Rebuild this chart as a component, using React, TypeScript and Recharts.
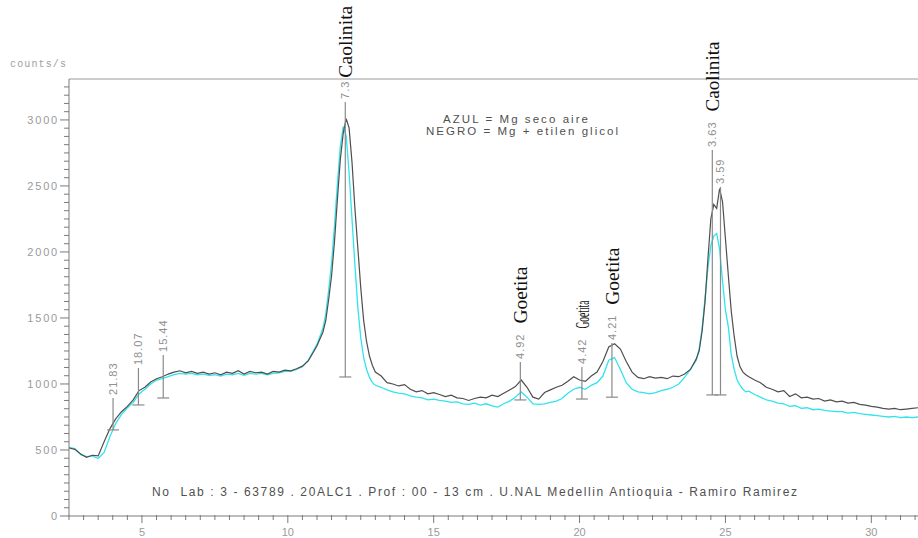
import React from 'react';
import { LineChart, Line, XAxis, YAxis, ReferenceLine } from 'recharts';

// ---------------- data ----------------
const twoTheta = [
  2.5, 2.7, 2.9, 3.1, 3.3, 3.5, 3.7, 3.9, 4.1, 4.3, 4.5, 4.7, 4.9, 5.1, 5.3, 5.5, 5.7, 5.9, 6.1, 6.3, 6.5, 6.7, 6.9,
  7.1, 7.3, 7.5, 7.7, 7.9, 8.1, 8.3, 8.5, 8.7, 8.9, 9.1, 9.3, 9.5, 9.7, 9.9, 10.1, 10.3, 10.5, 10.7, 10.9,
  11.0, 11.1, 11.2, 11.3, 11.4, 11.5, 11.6, 11.7, 11.8, 11.9, 12.0, 12.1, 12.2, 12.3, 12.4, 12.5, 12.6, 12.7, 12.8, 12.9,
  13.0, 13.2, 13.4, 13.6, 13.8, 14.0, 14.2, 14.4, 14.6, 14.8, 15.0, 15.2, 15.4, 15.6, 15.8, 16.0, 16.2, 16.4, 16.6, 16.8,
  17.0, 17.2, 17.4, 17.6, 17.8, 18.0, 18.2, 18.4, 18.6, 18.8, 19.0, 19.2, 19.4, 19.6, 19.8, 20.0, 20.2, 20.4, 20.6, 20.8,
  21.0, 21.2, 21.4, 21.6, 21.8, 22.0, 22.2, 22.4, 22.6, 22.8, 23.0, 23.2, 23.4, 23.6, 23.8,
  24.0, 24.1, 24.2, 24.3, 24.4, 24.5, 24.6, 24.7, 24.8, 24.9, 25.0, 25.1, 25.2, 25.3, 25.4, 25.5, 25.6, 25.7,
  25.8, 26.0, 26.2, 26.4, 26.6, 26.8, 27.0, 27.2, 27.4, 27.6, 27.8, 28.0, 28.2, 28.4, 28.6, 28.8, 29.0, 29.2, 29.4, 29.6,
  29.8, 30.0, 30.2, 30.4, 30.6, 30.8, 31.0, 31.2, 31.4, 31.6,
];

// NEGRO = Mg + etilen glicol
const negro = [
  515, 505, 470, 445, 460, 455, 560, 660, 735, 790, 830, 880, 950, 975, 1015, 1040, 1055, 1075, 1090, 1100, 1085, 1095, 1080,
  1090, 1075, 1085, 1070, 1090, 1080, 1100, 1075, 1095, 1085, 1090, 1075, 1095, 1090, 1105, 1100, 1115, 1135, 1175, 1250,
  1290, 1340, 1390, 1480, 1640, 1820, 2080, 2400, 2700, 2900, 3010, 2940, 2680, 2330, 2030, 1730, 1480, 1320, 1210, 1140,
  1090, 1060, 1010, 1000, 985, 995, 960, 940, 950, 925, 935, 920, 905, 915, 895, 890, 875, 890, 900, 895,
  915, 905, 930, 955, 980, 1030, 975, 900, 885, 935, 955, 975, 990, 1020, 1055, 1030, 1020, 1060, 1090, 1170,
  1280, 1305, 1265, 1170, 1090, 1050, 1040, 1055, 1045, 1050, 1040, 1060, 1055, 1075, 1110,
  1190, 1250, 1400, 1620, 1950, 2250, 2360, 2330, 2480, 2380, 2100, 1820, 1550, 1360, 1210, 1130, 1090, 1070,
  1055, 1030, 1010, 975, 960, 940, 950, 905, 925, 895, 900, 885, 890, 870, 880, 865, 870, 855, 860, 845,
  840, 830, 825, 815, 810, 815, 805, 810, 815, 820,
];

// AZUL = Mg seco aire
const azul = [
  520, 510, 465, 450, 455, 435, 480, 600, 700, 770, 820, 860, 925, 960, 1000, 1030, 1040, 1055, 1070, 1080, 1075, 1080, 1070,
  1075, 1065, 1070, 1060, 1075, 1070, 1080, 1065, 1080, 1075, 1080, 1070, 1080, 1085, 1095, 1095, 1110, 1130, 1180, 1260,
  1300, 1360, 1420, 1530, 1710, 1920, 2200, 2520, 2800, 2950, 2880, 2600, 2250, 1900, 1580, 1350, 1200, 1110, 1050, 1010,
  990, 975, 955, 940, 930, 925, 910, 900, 895, 880, 885, 875, 870, 860, 865, 850, 845, 855, 840, 850,
  835, 825, 850, 870, 900, 940, 900, 850, 845, 850, 860, 870, 890, 930, 960, 975, 960, 990, 1010, 1060,
  1180, 1200, 1110, 1010, 960, 940, 935, 925, 935, 950, 960, 975, 1000, 1050, 1110,
  1180, 1270, 1420, 1650, 1880, 2050, 2120, 2140, 2020, 1780, 1560, 1430, 1220, 1110, 1030, 990, 960, 940,
  945, 920, 900, 880, 870, 855, 850, 830, 835, 815, 820, 805, 810, 800, 795, 790, 790, 780, 785, 775,
  770, 765, 760, 755, 750, 755, 745, 750, 745, 750,
];

// peak annotations
const annX = [4.01, 4.88, 5.73, 11.97, 17.97, 20.08, 21.11, 24.55, 24.83];
const annD = ['21.83', '18.07', '15.44', '7.3', '4.92', '4.42', '4.21', '3.63', '3.59'];
const annTop = [894, 1121, 1220, 3136, 1167, 1129, 1310, 2773, 2492];
const annBottom = [652, 841, 894, 1053, 879, 886, 900, 917, 917];
const annMineral = ['', '', '', 'Caolinita', 'Goetita', 'Goetita', 'Goetita', 'Caolinita', ''];

const xLabelValues = [5, 10, 15, 20, 25, 30];
const yLabelValues = [0, 500, 1000, 1500, 2000, 2500, 3000];

const yAxisTitle = 'counts/s';
const legendAzul = 'AZUL = Mg seco aire';
const legendNegro = 'NEGRO = Mg + etilen glicol';
const footer = 'No  Lab : 3 - 63789 . 20ALC1 . Prof : 00 - 13 cm . U.NAL Medellin Antioquia - Ramiro Ramirez';

// ---------------- layout / style ----------------
const W = 918;
const H = 538;
const X_DOMAIN: [number, number] = [2.5, 31.6];
const Y_DOMAIN: [number, number] = [0, 3310];
const SANS = '"Liberation Sans", Arial, sans-serif';
const SERIF = '"Liberation Serif", "Times New Roman", serif';

const xTickValues: number[] = [];
for (let i = 0; i <= 58; i++) xTickValues.push(Math.round((2.5 + i * 0.5) * 10) / 10);
const yTickValues: number[] = [];
for (let i = 0; i <= 52; i++) yTickValues.push(i * 62.5);

const mineralLen: Record<number, number> = { 3: 72, 4: 57, 5: 28, 6: 57, 7: 70 };
const mineralGap: Record<number, number> = { 3: 3 };

const data = twoTheta.map((t, i) => ({ t, negro: negro[i], azul: azul[i] }));

function XTick(props: any) {
  const { x, y, payload } = props;
  const v = payload.value;
  const major = xLabelValues.includes(v);
  return (
    <g>
      <line x1={x} x2={x} y1={y - 1} y2={y + (major ? 7 : 4)} stroke="#7a7a7a" strokeWidth={1} />
      {major && (
        <text x={x} y={y + 20} textAnchor="middle" fontSize={11} fill="#9a9a9a" fontFamily={SANS}>
          {v}
        </text>
      )}
    </g>
  );
}

function YTick(props: any) {
  const { x, y, payload } = props;
  const v = payload.value;
  const major = yLabelValues.includes(v);
  return (
    <g>
      <line x1={x - (major ? 9 : 5)} x2={x} y1={y} y2={y} stroke="#7a7a7a" strokeWidth={1} />
      {major && (
        <text
          x={x - 10}
          y={y}
          textAnchor="end"
          dominantBaseline="central"
          fontSize={11}
          letterSpacing={1.8}
          fill="#9a9a9a"
          fontFamily={SANS}
        >
          {v}
        </text>
      )}
    </g>
  );
}

function AnnLabel(props: any) {
  const { viewBox, idx } = props;
  if (!viewBox) return null;
  const x = viewBox.x;
  const top = viewBox.y;
  const bottom = viewBox.y + viewBox.height;
  const d = annD[idx];
  const mineral = annMineral[idx];
  let dLen = 0;
  for (const ch of d) dLen += (ch === '.' ? 3.1 : 6.1) + 1;
  const dStart = top - 3;
  const gap = mineralGap[idx] ?? 10;
  const mStart = dStart - dLen - gap;
  return (
    <g>
      <line x1={x - 6} x2={x + 6} y1={bottom} y2={bottom} stroke="#8a8a8a" strokeWidth={1.2} />
      <text
        transform={`translate(${x},${dStart}) rotate(-90)`}
        textAnchor="start"
        dominantBaseline="central"
        fontSize={11}
        letterSpacing={1}
        fill="#8f8f8f"
        fontFamily={SANS}
      >
        {d}
      </text>
      {mineral && (
        <text
          transform={`translate(${x + 1},${mStart}) rotate(-90)`}
          textAnchor="start"
          dominantBaseline="central"
          fontSize={18}
          fill="#111"
          fontFamily={SERIF}
          textLength={mineralLen[idx]}
          lengthAdjust="spacingAndGlyphs"
        >
          {mineral}
        </text>
      )}
    </g>
  );
}

export default function App() {
  return (
    <div style={{ position: 'absolute', left: 0, top: 0, width: W, height: H, background: '#fff' }}>
      <LineChart width={W} height={H} data={data} margin={{ top: 79, right: 0, bottom: 0, left: 0 }}>
        <XAxis
          dataKey="t"
          type="number"
          domain={X_DOMAIN}
          allowDataOverflow
          ticks={xTickValues}
          interval={0}
          tick={<XTick />}
          tickLine={false}
          tickSize={0}
          tickMargin={0}
          height={22}
          axisLine={{ stroke: '#7a7a7a' }}
        />
        <YAxis
          type="number"
          domain={Y_DOMAIN}
          allowDataOverflow
          ticks={yTickValues}
          interval={0}
          tick={<YTick />}
          tickLine={false}
          tickSize={0}
          tickMargin={0}
          width={69}
          axisLine={{ stroke: '#7a7a7a' }}
        />
        <ReferenceLine y={Y_DOMAIN[1]} stroke="#9a9a9a" strokeWidth={1} ifOverflow="visible" />
        <Line
          dataKey="azul"
          type="linear"
          stroke="#30e4ee"
          strokeWidth={1.3}
          dot={false}
          activeDot={false}
          isAnimationActive={false}
        />
        <Line
          dataKey="negro"
          type="linear"
          stroke="#4f4f4f"
          strokeWidth={1.2}
          dot={false}
          activeDot={false}
          isAnimationActive={false}
        />
        {annX.map((ax, i) => (
          <ReferenceLine
            key={annD[i]}
            segment={[
              { x: ax, y: annBottom[i] },
              { x: ax, y: annTop[i] },
            ]}
            stroke="#8a8a8a"
            strokeWidth={1.2}
            ifOverflow="visible"
            label={<AnnLabel idx={i} />}
          />
        ))}
      </LineChart>
      <svg
        width={W}
        height={H}
        style={{ position: 'absolute', left: 0, top: 0, pointerEvents: 'none' }}
      >
        <text x={10} y={67} fontSize={10} fill="#a0a0a0" fontFamily='"Liberation Mono", monospace' textLength={56} lengthAdjust="spacing">
          {yAxisTitle}
        </text>
        <text x={443} y={122.5} fontSize={11.5} fill="#505050" fontFamily={SANS} textLength={145} lengthAdjust="spacing">
          {legendAzul}
        </text>
        <text x={426} y={135} fontSize={11.5} fill="#505050" fontFamily={SANS} textLength={192} lengthAdjust="spacing">
          {legendNegro}
        </text>
        <text x={152} y={496} fontSize={12} fill="#505050" fontFamily={SANS} textLength={645} lengthAdjust="spacing" style={{ whiteSpace: 'pre' }}>
          {footer}
        </text>
      </svg>
    </div>
  );
}
